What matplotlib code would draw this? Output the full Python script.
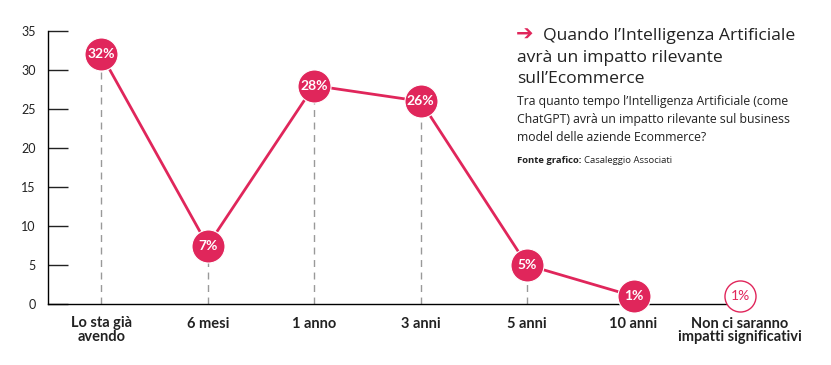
import matplotlib
matplotlib.use("Agg")
import matplotlib.pyplot as plt

categories = ["Lo sta già\navendo", "6 mesi", "1 anno", "3 anni", "5 anni", "10 anni",
              "Non ci saranno\nimpatti significativi"]
values = [32, 7.5, 28, 26, 5, 1, 1]
labels = ["32%", "7%", "28%", "26%", "5%", "1%", "1%"]
yticks = [0, 5, 10, 15, 20, 25, 30, 35]

PINK = "#E0265B"
DARK = "#222222"
TFONT = "Open Sans"

fig = plt.figure(figsize=(8.31, 3.65), dpi=100)
ax = fig.add_axes([48/831, 61/365, (740-48)/831, (304-31)/365])

x = list(range(len(categories)))
# dashed guide lines
for xi, v in zip(x[:-1], values[:-1]):
    ax.plot([xi, xi], [0, v], color="#999999", lw=1, ls=(0, (5, 4)), zorder=1)

ax.plot(x[:-1], values[:-1], color=PINK, lw=2, zorder=2)
ax.scatter(x[:-1], values[:-1], s=33**2*0.52, color=PINK, edgecolors="white", linewidths=0.8, zorder=3, clip_on=False)
ax.scatter([x[-1]], [values[-1]], s=31**2*0.52, facecolors="white", edgecolors=PINK, linewidths=1, zorder=3, clip_on=False)
for xi, v, lab in zip(x[:-1], values[:-1], labels[:-1]):
    ax.text(xi, v, lab, color="white", ha="center", va="center", fontsize=10,
            fontweight="bold", family="Lato", zorder=4)
ax.text(x[-1], values[-1], labels[-1], color=PINK, ha="center", va="center",
        fontsize=10, family="Lato", zorder=4)

ax.set_xlim(-0.5, 6)
ax.set_ylim(0, 35)
ax.set_yticks(yticks)
ax.set_xticks(x)
ax.set_xticklabels(categories, fontsize=10.5, fontweight="bold", family="Lato",
                   color=DARK, linespacing=0.95)
ax.tick_params(axis="x", length=0, pad=9)
ax.tick_params(axis="y", direction="in", length=14.5, width=1, pad=9,
               labelsize=9, colors=DARK)
for lab in ax.get_yticklabels():
    lab.set_family("Lato")
for s in ["top", "right"]:
    ax.spines[s].set_visible(False)
ax.spines["left"].set_linewidth(1)
ax.spines["bottom"].set_linewidth(1)

# title block
fig.text(516/831, 1-41/365, "➔", color=PINK, fontsize=15, fontweight="bold",
         family="DejaVu Sans", va="baseline")
fig.text(543/831, 1-40/365, "Quando l’Intelligenza Artificiale", color=DARK,
         fontsize=12.6, family=TFONT, va="baseline")
fig.text(517/831, 1-62/365, "avrà un impatto rilevante", color=DARK,
         fontsize=12.6, family=TFONT, va="baseline")
fig.text(517/831, 1-83/365, "sull’Ecommerce", color=DARK,
         fontsize=12.6, family=TFONT, va="baseline")
sub = ["Tra quanto tempo l’Intelligenza Artificiale (come",
       "ChatGPT) avrà un impatto rilevante sul business",
       "model delle aziende Ecommerce?"]
for i, line in enumerate(sub):
    fig.text(517/831, 1-(105+18*i)/365, line, color=DARK, fontsize=8.85,
             family=TFONT, va="baseline")
t = fig.text(517/831, 1-163/365, "Fonte grafico: ", color=DARK, fontsize=6.8,
             family=TFONT, fontweight="bold", va="baseline")
fig.canvas.draw()
bb = t.get_window_extent()
fig.text(bb.x1/fig.bbox.width, 1-163/365, "Casaleggio Associati", color=DARK,
         fontsize=6.8, family=TFONT, va="baseline")

fig.savefig("out.png", dpi=100)
